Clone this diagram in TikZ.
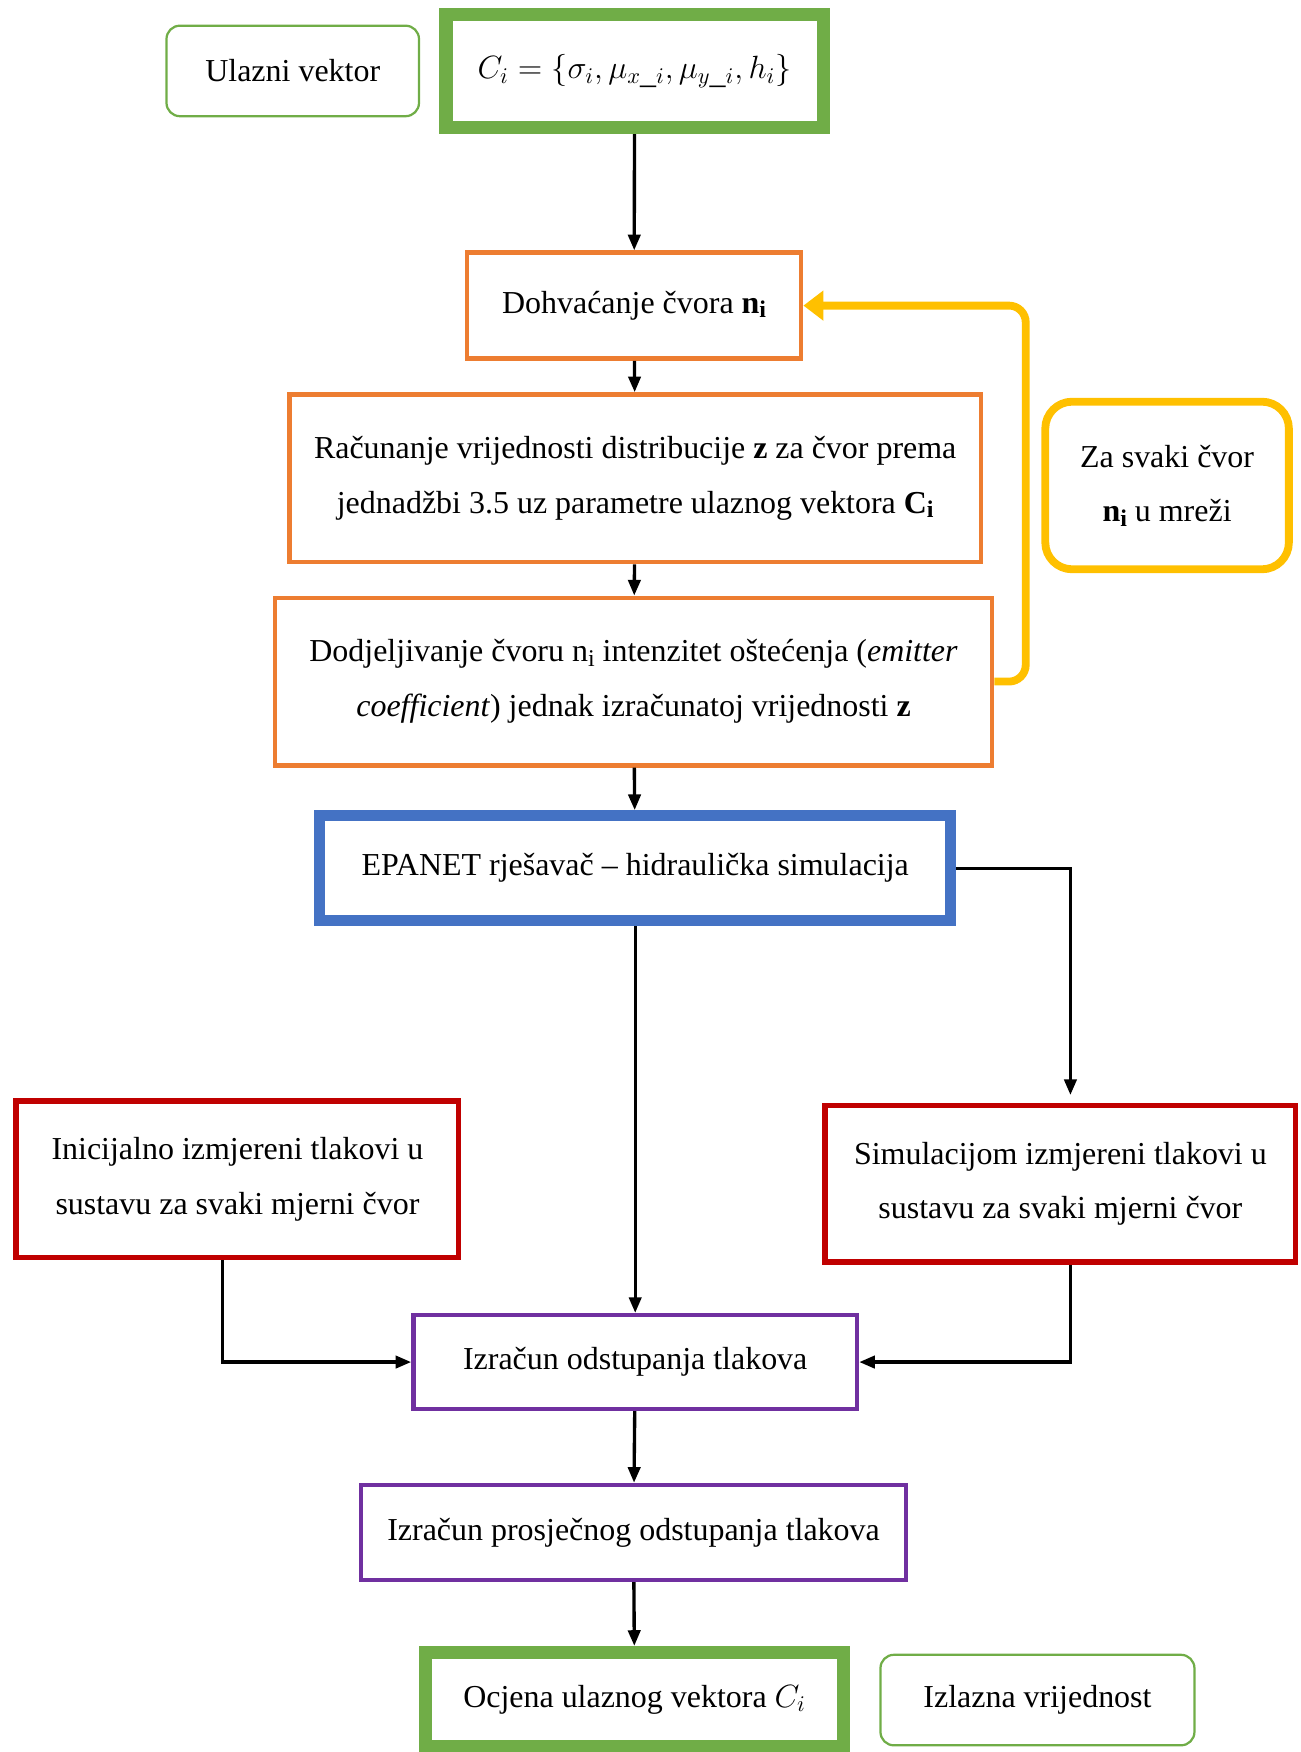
\documentclass[tikz,border=0pt]{standalone}
\usepackage{fontspec}
\setmainfont{Liberation Serif}
\usetikzlibrary{arrows.meta}
\definecolor{cgreen}{HTML}{70AD47}
\definecolor{corange}{HTML}{ED7D31}
\definecolor{cblue}{HTML}{4472C4}
\definecolor{cred}{HTML}{C00000}
\definecolor{cpurple}{HTML}{7030A0}
\definecolor{cyellow}{HTML}{FFC000}
\newcommand{\mysub}[1]{\raisebox{-0.3ex}{\scalebox{0.75}{#1}}}
\tikzset{
  box/.style={draw, rectangle, inner sep=0pt, align=center, font=\fontsize{14.3}{24.5}\selectfont},
  greenbox/.style={box, draw=cgreen, line width=6pt},
  thinbox/.style={box, draw=cgreen, line width=1pt, rounded corners=6pt},
  orangebox/.style={box, draw=corange, line width=2pt},
  bluebox/.style={box, draw=cblue, line width=5pt},
  redbox/.style={box, draw=cred, line width=2.5pt},
  purplebox/.style={box, draw=cpurple, line width=2pt},
  yellowbox/.style={box, draw=cyellow, line width=3.5pt, rounded corners=12pt},
  arr/.style={-{Triangle[length=7pt,width=5.5pt]}, line width=1.5pt, black},
  looparr/.style={-{Triangle[length=9pt,width=13pt]}, line width=3.5pt, cyellow, rounded corners=7.5pt},
}
\begin{document}
\begin{tikzpicture}[x=0.5pt,y=-0.5pt]
\useasboundingbox (0,0) rectangle (1164,1568);
\node[thinbox, minimum width=113pt, minimum height=40.5pt] (ulaz) at (262,63.5) {Ulazni vektor};
\node[greenbox, minimum width=169pt, minimum height=50.5pt] (ci) at (568,63.5) {$C_i=\left\{\sigma_i,\mu_{x\_i},\mu_{y\_i},h_i\right\}$};
\node[orangebox, minimum width=149.5pt, minimum height=47.5pt] (dohv) at (567.5,273.5) {Dohvaćanje čvora \textbf{n\mysub{i}}};
\node[orangebox, minimum width=309.5pt, minimum height=75pt] (racun) at (568.5,428) {Računanje vrijednosti distribucije \textbf{z} za čvor prema\\jednadžbi 3.5 uz parametre ulaznog vektora \textbf{C\mysub{i}}};
\node[orangebox, minimum width=321pt, minimum height=75pt] (dodj) at (567,610) {Dodjeljivanje čvoru n\mysub{i} intenzitet oštećenja (\textit{emitter}\\\textit{coefficient}) jednak izračunatoj vrijednosti \textbf{z}};
\node[bluebox, minimum width=282.5pt, minimum height=47pt] (epanet) at (568.5,777) {EPANET rješavač – hidraulička simulacija};
\node[yellowbox, minimum width=109pt, minimum height=75pt] (svaki) at (1044.5,434.5) {Za svaki čvor\\\textbf{n\mysub{i}} u mreži};
\node[redbox, minimum width=198pt, minimum height=70pt] (inic) at (212.5,1055.5) {Inicijalno izmjereni tlakovi u\\sustavu za svaki mjerni čvor};
\node[redbox, minimum width=210.5pt, minimum height=70pt] (simul) at (949,1059.5) {Simulacijom izmjereni tlakovi u\\sustavu za svaki mjerni čvor};
\node[purplebox, minimum width=198.5pt, minimum height=42pt] (izr) at (568.5,1219) {Izračun odstupanja tlakova};
\node[purplebox, minimum width=244pt, minimum height=42.5pt] (pros) at (567,1371.5) {Izračun prosječnog odstupanja tlakova};
\node[greenbox, minimum width=187pt, minimum height=42pt] (ocj) at (568,1521) {Ocjena ulaznog vektora $C_i$};
\node[thinbox, minimum width=140.5pt, minimum height=40.5pt] (izlaz) at (928.5,1521.5) {Izlazna vrijednost};
\coordinate (loopx) at (918,0);
\draw[arr] (ci) -- (dohv);
\draw[arr] (dohv) -- (racun);
\draw[arr] (racun) -- (dodj);
\draw[arr] (dodj) -- (epanet);
\draw[looparr] (dodj.east) -| (loopx |- dohv.east) -- (dohv.east);
\draw[arr] (epanet.east) -| ([xshift=4.5pt,yshift=3.5pt]simul.north);
\draw[arr] (epanet) -- (izr);
\draw[arr] ([xshift=-6.75pt]inic.south) |- (izr.west);
\draw[arr] ([xshift=4.5pt]simul.south) |- (izr.east);
\draw[arr] (izr) -- (pros);
\draw[arr] (pros) -- (ocj);
\end{tikzpicture}
\end{document}
